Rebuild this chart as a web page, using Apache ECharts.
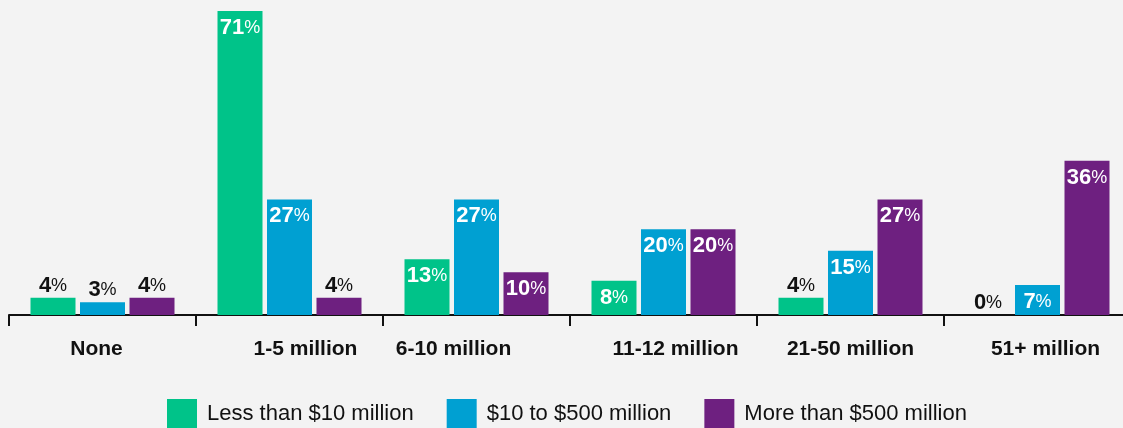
<!DOCTYPE html>
<html>
<head>
<meta charset="utf-8">
<script src="https://cdn.jsdelivr.net/npm/echarts@6/dist/echarts.min.js"></script>
<style>
  html, body { margin: 0; padding: 0; background: #f3f3f3; overflow: hidden; }
  /* the last category band runs a few pixels past the right edge */
  #chart { width: 1131px; height: 428px; }
</style>
</head>
<body>
<div id="chart"></div>
<script>
// Share of companies by number of data records, split by company revenue
const categories = ['None', '1-5 million', '6-10 million', '11-12 million', '21-50 million', '51+ million'];
const seriesNames = ['Less than $10 million', '$10 to $500 million', 'More than $500 million'];
const lessThan10M = [4, 71, 13, 8, 4, 0];
const from10To500M = [3, 27, 27, 20, 15, 7];
const moreThan500M = [4, 4, 10, 20, 27, 36];

const colors = ['#00c389', '#00a0d2', '#6e2080'];
// horizontal nudge (px) applied to each category label
const labelShift = [-6, 16, -23, 12, 0, 8];

const FONT = '"Liberation Sans", Arial, Helvetica, sans-serif';

function labelRich(color) {
  return {
    n: { fontFamily: FONT, fontSize: 22, fontWeight: 'bold', color: color },
    p: { fontFamily: FONT, fontSize: 18, fontWeight: 'normal', color: color }
  };
}

function makeData(values) {
  return values.map(v => {
    const inside = v >= 7;
    return {
      value: v,
      label: inside
        ? { position: 'insideTop', distance: 6, rich: labelRich('#ffffff') }
        : { position: 'top', distance: 1, rich: labelRich('#111111') }
    };
  });
}

const axisRich = {};
labelShift.forEach((d, i) => {
  axisRich['c' + i] = {
    fontFamily: FONT, fontSize: 21, fontWeight: 'bold', color: '#111111',
    padding: d >= 0 ? [0, 0, 0, 2 * d] : [0, -2 * d, 0, 0]
  };
});

const chart = echarts.init(document.getElementById('chart'), null, { renderer: 'canvas' });

chart.setOption({
  backgroundColor: '#f3f3f3',
  animation: false,
  color: colors,
  grid: { left: 9, top: 11, right: 0, bottom: 113, containLabel: false },
  legend: {
    left: 167,
    top: 399,
    padding: 0,
    itemWidth: 30,
    itemHeight: 30,
    itemGap: 33,
    icon: 'rect',
    textStyle: { fontFamily: FONT, fontSize: 22, color: '#111111', padding: [0, 0, 0, 5] },
    data: seriesNames
  },
  xAxis: {
    type: 'category',
    data: categories,
    axisLine: { show: true, lineStyle: { color: '#111111', width: 2 } },
    axisTick: { show: true, length: 11, lineStyle: { color: '#111111', width: 2 } },
    axisLabel: {
      margin: 24,
      formatter: (val, idx) => '{c' + idx + '|' + val + '}',
      rich: axisRich
    }
  },
  yAxis: {
    type: 'value',
    min: 0,
    max: 71,
    show: false,
    splitLine: { show: false }
  },
  series: [lessThan10M, from10To500M, moreThan500M].map((vals, i) => ({
    name: seriesNames[i],
    type: 'bar',
    barWidth: 45,
    barGap: '10%',
    data: makeData(vals),
    label: {
      show: true,
      formatter: p => '{n|' + p.value + '}{p|%}'
    }
  }))
});
</script>
</body>
</html>
